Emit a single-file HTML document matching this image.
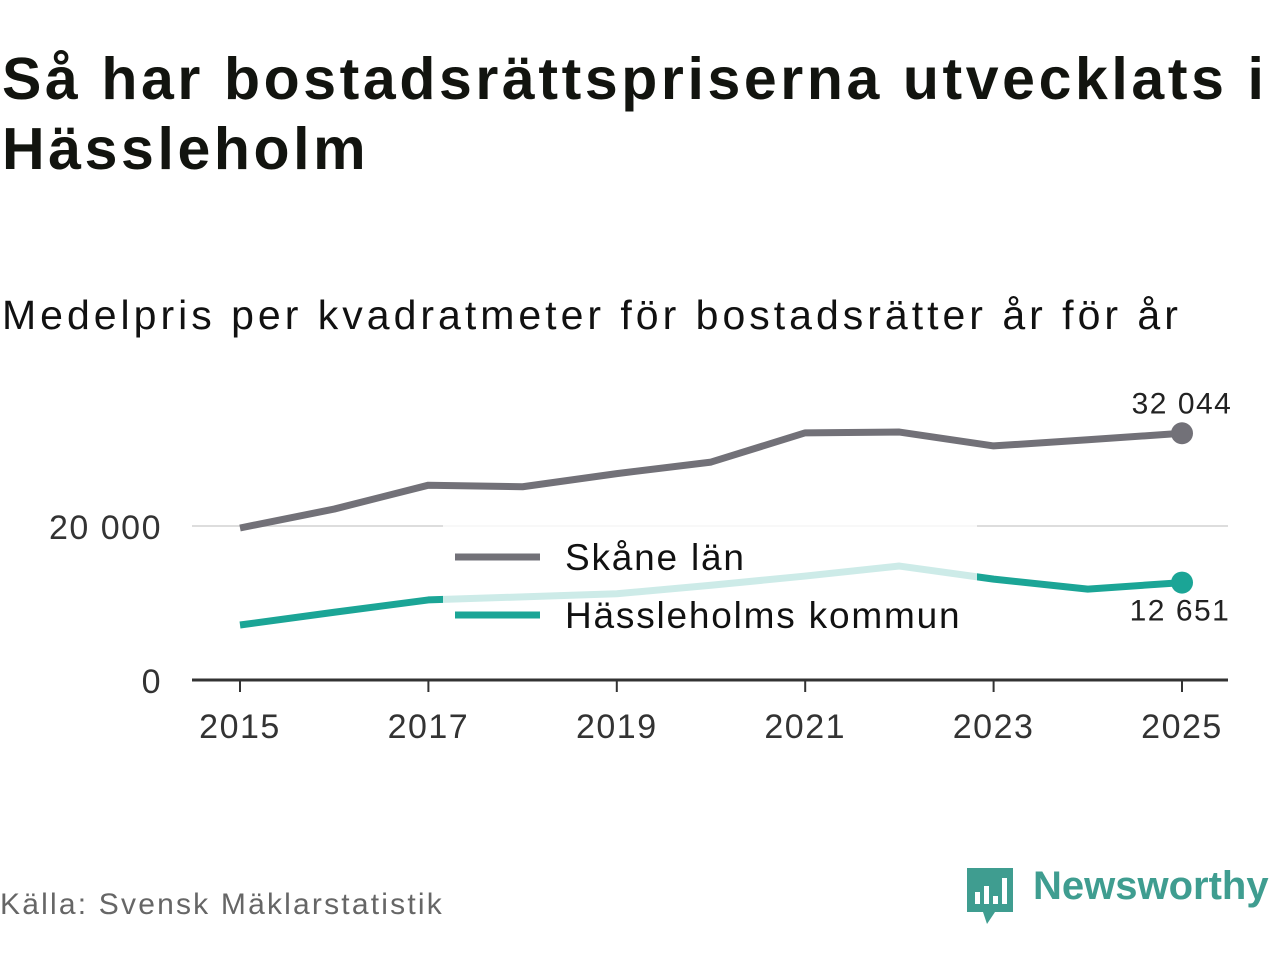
<!DOCTYPE html>
<html><head><meta charset="utf-8"><style>
body{margin:0;width:1280px;height:960px;background:#fff;font-family:"Liberation Sans",sans-serif;overflow:hidden;position:relative;color:#111}
h1{position:absolute;left:2px;top:44px;margin:0;font-size:59px;line-height:70px;font-weight:bold;color:#12140f;letter-spacing:3.6px}
.sub{position:absolute;left:2px;top:292px;font-size:41px;color:#111;letter-spacing:4px}
.src{position:absolute;left:0;top:888px;font-size:30px;color:#666;letter-spacing:2.2px}
.logo{position:absolute;left:965px;top:866px}
.logotext{position:absolute;left:1033px;top:864px;font-size:40px;color:#3f9d90;font-weight:bold}
</style></head><body>
<h1>Så har bostadsrättspriserna utvecklats i<br>Hässleholm</h1>
<div class="sub">Medelpris per kvadratmeter för bostadsrätter år för år</div>
<svg id="chart" width="1280" height="960" style="position:absolute;left:0;top:0"></svg>
<div class="src">Källa: Svensk Mäklarstatistik</div>
<svg class="logo" width="52" height="60" viewBox="0 0 52 60">
<path d="M2 2h46v44H30l-8 12-4-12H2z" fill="#3f9d90"/>
<rect x="10" y="26" width="5" height="12" fill="#fff"/><rect x="19" y="20" width="5" height="18" fill="#fff"/><rect x="28" y="30" width="5" height="8" fill="#fff"/><rect x="37" y="12" width="5" height="26" fill="#fff"/>
</svg>
<div class="logotext">Newsworthy</div>
<script>
const years=[2015,2016,2017,2018,2019,2020,2021,2022,2023,2024,2025];
const skane=[19740,22200,25300,25100,26800,28300,32100,32200,30400,31200,32044];
const hassle=[7140,8800,10400,10800,11200,12300,13500,14800,13100,11800,12651];
const yTicks=[0,20000];
const yTickLabels=["0","20 000"];
const xTicks=[2015,2017,2019,2021,2023,2025];
const svg=document.getElementById('chart');
const NS='http://www.w3.org/2000/svg';
const x=v=>240+(v-2015)*94.2;
const y=v=>680-v*0.0077;
function mk(t,a){const e=document.createElementNS(NS,t);for(const k in a)e.setAttribute(k,a[k]);svg.appendChild(e);return e;}
yTicks.forEach((t,i)=>{
 if(t>0){const g=mk('line',{x1:192,x2:1228,y1:y(t),y2:y(t),stroke:'#ddd','stroke-width':2});
 
 }
 const l=mk('text',{x:162,y:y(t)+13,'text-anchor':'end','font-size':34,fill:'#333','font-family':'Liberation Sans','letter-spacing':1.5});
 l.textContent=yTickLabels[i];
 
 
});
const ax=mk('line',{x1:192,x2:1228,y1:680,y2:680,stroke:'#333','stroke-width':3});


xTicks.forEach(t=>{
 const tk=mk('line',{x1:x(t),x2:x(t),y1:680,y2:692,stroke:'#333','stroke-width':2});
 
 
 const l=mk('text',{x:x(t),y:738,'text-anchor':'middle','font-size':34,fill:'#333','font-family':'Liberation Sans','letter-spacing':1.5});
 l.textContent=t;
 
 
});
function line(vals,col,name){
 const p=mk('polyline',{points:vals.map((v,i)=>x(years[i])+','+y(v)).join(' '),fill:'none',stroke:col,'stroke-width':7,'stroke-linejoin':'round'});
 
 
 const n=vals.length-1;
 const c=mk('circle',{cx:x(years[n]),cy:y(vals[n]),r:11,fill:col});
 
 
}
line(skane,'#727178','line-skane');
line(hassle,'#1ba596','line-hassleholm');
const bg=mk('rect',{x:443,y:522,width:534,height:118,fill:'#fff','fill-opacity':0.78});


const fmt=v=>Math.round(v).toString().replace(/\B(?=(\d{3})+(?!\d))/g,' ');
const n=years.length-1;
const l1=mk('text',{x:1182,y:y(skane[n])-20,'text-anchor':'middle','font-size':30,fill:'#222','font-family':'Liberation Sans','letter-spacing':1.5});
l1.textContent=fmt(skane[n]);


const l2=mk('text',{x:1180,y:y(hassle[n])+38,'text-anchor':'middle','font-size':30,fill:'#222','font-family':'Liberation Sans','letter-spacing':1.5});
l2.textContent=fmt(hassle[n]);


[['Skåne län','#727178',557],['Hässleholms kommun','#1ba596',615]].forEach(([t,c,yy])=>{
 const s=mk('line',{x1:455,x2:540,y1:yy,y2:yy,stroke:c,'stroke-width':7});
 
 
 const tx=mk('text',{x:565,y:yy+13,'font-size':37,fill:'#111','font-family':'Liberation Sans','letter-spacing':1.8});
 tx.textContent=t;
 
 
});
</script>
</body></html>
